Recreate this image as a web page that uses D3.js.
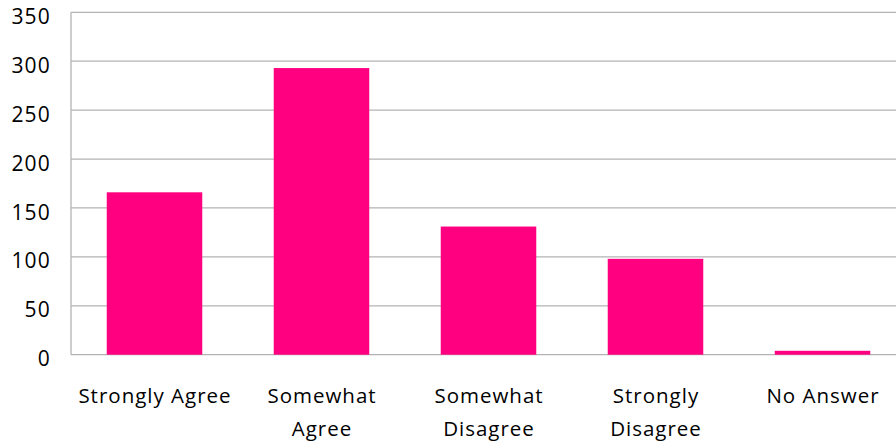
<!DOCTYPE html>
<html><head><meta charset="utf-8">
<script src="https://cdn.jsdelivr.net/npm/d3@7"></script>
<style>body{margin:0;background:#fff}svg{display:block}text{font-family:"Open Sans",sans-serif;fill:#000}</style>
</head><body><svg id="c" width="896" height="448"></svg>
<script>
const categories = ["Strongly Agree","Somewhat Agree","Somewhat Disagree","Strongly Disagree","No Answer"];
const categoryLines = [["Strongly Agree"],["Somewhat","Agree"],["Somewhat","Disagree"],["Strongly","Disagree"],["No Answer"]];
const values = [166,293,131,98,4];
const yTicks = [0,50,100,150,200,250,300,350];

const svg = d3.select("#c");
const m = {l:71, r:906, t:12.3, b:354.7, gridEnd:896};
const x = d3.scaleBand().domain(categories).range([m.l, m.r]).paddingInner(0.428).paddingOuter(0.214);
const y = d3.scaleLinear().domain([0,350]).range([m.b, m.t]);

svg.append("g").selectAll("line").data(yTicks).join("line")
  .attr("x1", m.l).attr("x2", m.gridEnd)
  .attr("y1", d=>y(d)).attr("y2", d=>y(d))
  .attr("stroke", "#b3b3b3").attr("stroke-width", 1.3);

svg.append("g").selectAll("rect").data(values).join("rect")
  .attr("x", (d,i)=>x(categories[i])).attr("width", x.bandwidth())
  .attr("y", d=>y(d)).attr("height", d=>y(0)-y(d))
  .attr("fill", "#FF0080");

svg.append("line").attr("x1", m.l).attr("x2", m.l).attr("y1", m.t).attr("y2", m.b)
  .attr("stroke", "#b3b3b3").attr("stroke-width", 1.3);

svg.append("g").selectAll("text").data(yTicks).join("text")
  .attr("x", 51).attr("y", d=>y(d)+4).attr("dy", "0.36em")
  .attr("text-anchor", "end").attr("font-size", 21).attr("letter-spacing", "1.2px").text(d=>d);

const xl = svg.append("g").selectAll("text").data(categories).join("text")
  .attr("x", d=>x(d)+x.bandwidth()/2).attr("y", 403)
  .attr("text-anchor", "middle").attr("font-size", 20.5).attr("letter-spacing", "1px");
xl.each(function(d,i){
  const t = d3.select(this);
  categoryLines[i].forEach((ln,j)=>{
    t.append("tspan").attr("x", x(d)+x.bandwidth()/2 + 0.5).attr("dy", j===0?0:33).text(ln);
  });
});
</script></body></html>
